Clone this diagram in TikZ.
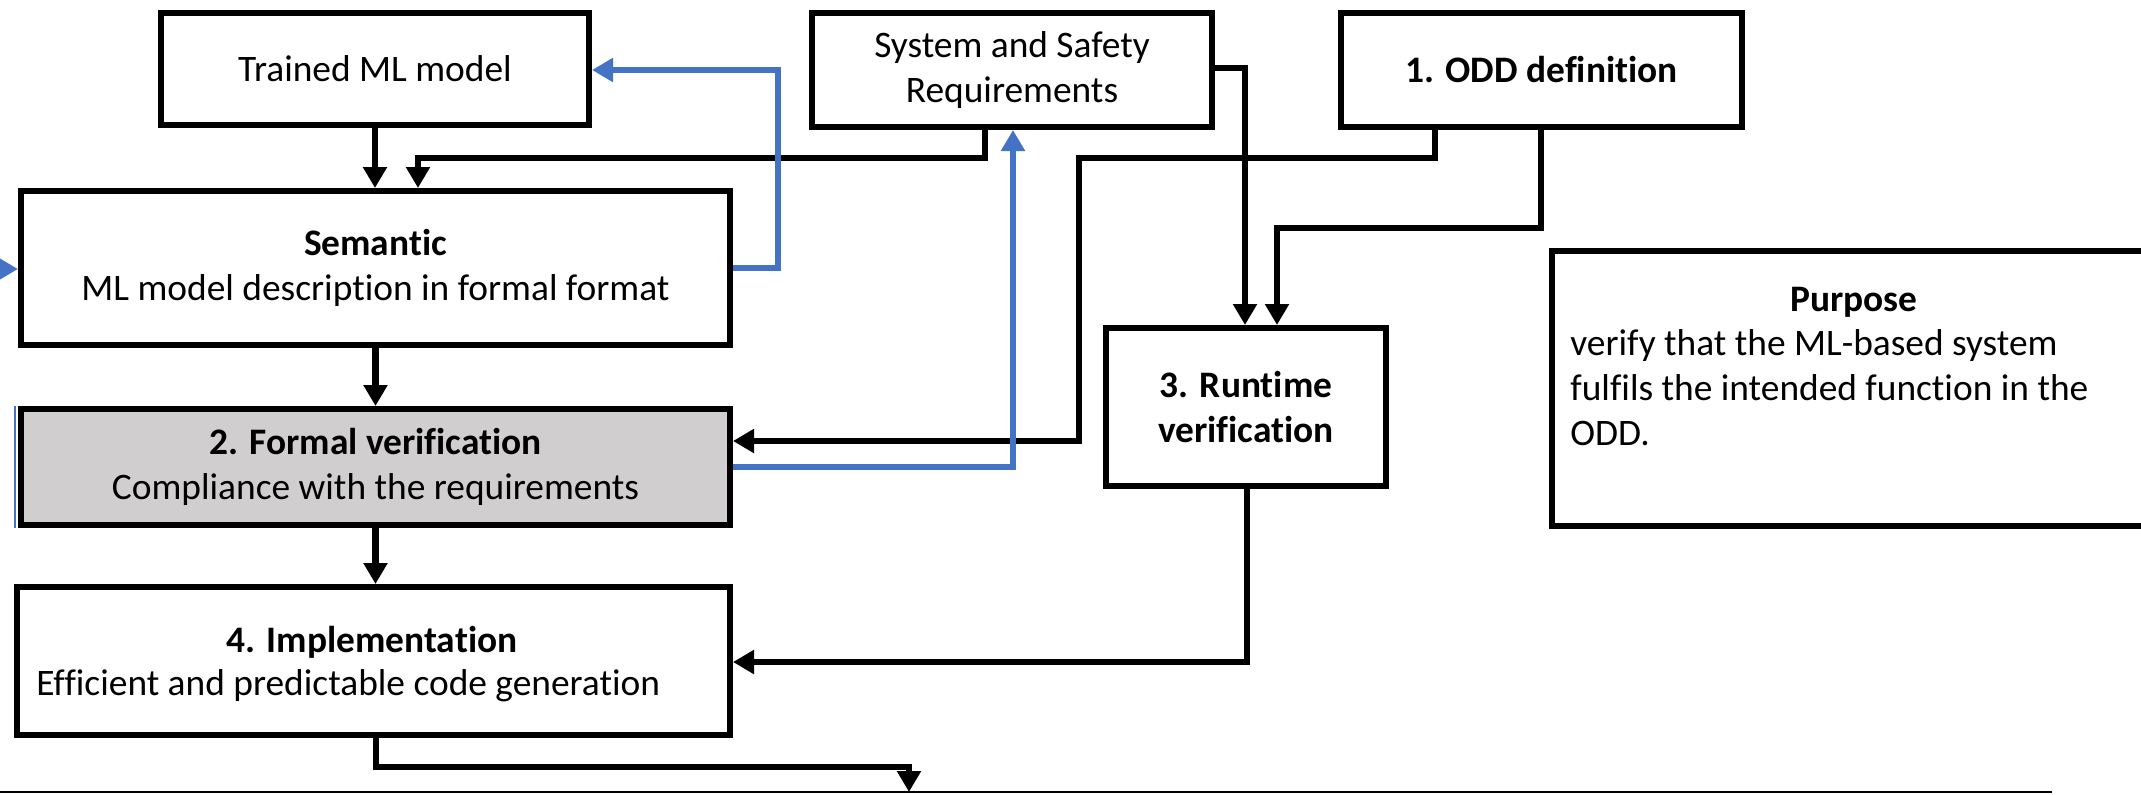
\documentclass[tikz,border=0pt]{standalone}
\usepackage{fontspec}
\setmainfont{Carlito}[Ligatures=NoCommon]
\usetikzlibrary{arrows.meta}
\definecolor{flowblue}{HTML}{4472C4}
\definecolor{boxgray}{HTML}{D0CECE}
\tikzset{
  box/.style={draw, line width=3pt, inner sep=0pt, align=center, fill=white,
    font=\fontsize{18.7pt}{22.5pt}\selectfont},
  txt/.style={inner sep=0pt, font=\fontsize{18.7pt}{22.5pt}\selectfont},
  conn/.style={line width=3.1pt, -{Triangle[length=10.5pt,width=11.5pt]}},
  bconn/.style={line width=3pt, draw=flowblue, -{Triangle[length=10.5pt,width=11.5pt,fill=flowblue]}},
}
\begin{document}
\begin{tikzpicture}[x=0.5pt,y=-0.5pt]
\useasboundingbox (0,0) rectangle (2141,794);
\clip (0,0) rectangle (2141,794);
% boxes
\node[box, minimum width=214pt, minimum height=56pt] (trained) at (375,69) {Trained ML model};
\node[box, minimum width=200pt, minimum height=57pt] (ssr) at (1012,70) {System and Safety\\Requirements};
\node[box, minimum width=200.5pt, minimum height=57pt] (odd) at (1541.5,70) {\bfseries 1. ODD definition};
\node[box, minimum width=354.5pt, minimum height=77pt] (sem) at (375.5,268) {\textbf{Semantic}\\ML model description in formal format};
\node[box, fill=boxgray, minimum width=354.5pt, minimum height=58pt] (formal) at (375.5,467) {\textbf{2. Formal verification}\\Compliance with the requirements};
\node[box, minimum width=356.5pt, minimum height=74pt] (impl) at (373.5,661) {};
\node[txt, anchor=base] (implA) at (372,652) {\bfseries 4. Implementation};
\node[txt, anchor=base west] (implB) at (36,695) {Efficient and predictable code generation};
\node[box, minimum width=140pt, minimum height=79pt] (runtime) at (1246,407) {\bfseries 3. Runtime\\\bfseries verification};
\node[box, minimum width=301pt, minimum height=137.5pt] (purpose) at (1853,388.5) {};
\node[txt, anchor=base] (purposeA) at (1854,311) {\bfseries Purpose};
\node[txt, anchor=north west, align=left] (purposeB) at (1570,329) {verify that the ML-based system\\fulfils the intended function in the\\ODD.};
% helper coordinates
\coordinate (c1) at (985,158);
\coordinate (c2) at (418,158);
\coordinate (b0) at (0,269);
\coordinate (b1) at (778,268);
\coordinate (b2) at (778,70);
\coordinate (b3) at (1013,467);
\coordinate (o1) at (1435,158);
\coordinate (o2) at (1079,158);
\coordinate (o3) at (1079,441);
\coordinate (o4) at (1541,228);
\coordinate (o5) at (1277,228);
\coordinate (s1) at (1245,68);
\coordinate (r1) at (1247,662);
\coordinate (i1) at (376,767);
\coordinate (i2) at (909,767);
\coordinate (i3) at (909,792);
\coordinate (l0) at (0,792);
\coordinate (l1) at (2052,792);
\coordinate (f0) at (15,406);
\coordinate (f1) at (15,528);
% connectors
\draw[conn] (trained.south) -- (trained.south |- sem.north);
\draw[conn] (ssr.south -| c1) -- (c1) -- (c2) -- (c2 |- sem.north);
\draw[bconn] (sem.east) -- (b1) -- (b2) -- (b2 -| trained.east);
\draw[bconn] (b0) -- (b0 -| sem.west);
\draw[conn] (odd.south -| o1) -- (o1) -- (o2) -- (o3) -- (o3 -| formal.east);
\draw[bconn] (formal.east |- b3) -- (b3) -- (b3 |- ssr.south);
\draw[conn] (ssr.east |- s1) -- (s1) -- (s1 |- runtime.north);
\draw[conn] (odd.south -| o4) -- (o4) -- (o5) -- (o5 |- runtime.north);
\draw[conn] (sem.south) -- (formal.north);
\draw[conn] (formal.south) -- (formal.south |- impl.north);
\draw[conn] (runtime.south -| r1) -- (r1) -- (r1 -| impl.east);
\draw[conn] (impl.south -| i1) -- (i1) -- (i2) -- (i3);
\draw[line width=1pt] (l0) -- (l1);
\draw[draw=flowblue, line width=1pt] (f0) -- (f1);
\end{tikzpicture}
\end{document}
